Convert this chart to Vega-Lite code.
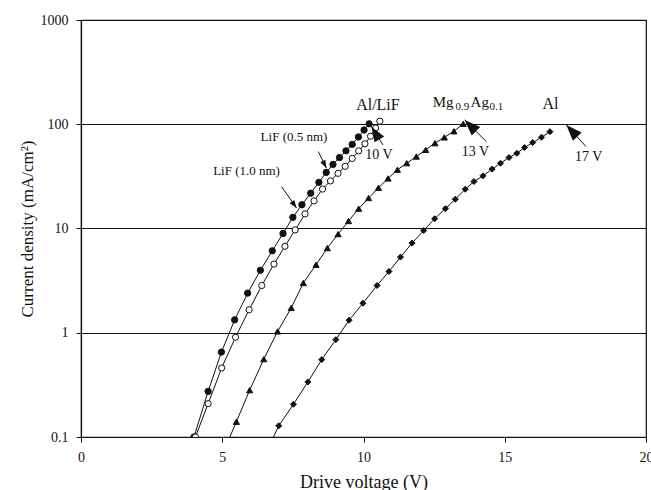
{
  "$schema": "https://vega.github.io/schema/vega-lite/v6.json",
  "width": 565,
  "height": 417,
  "autosize": {"type": "none"},
  "padding": {"left": 81, "top": 20, "right": 5, "bottom": 53},
  "background": "white",
  "config": {
    "font": "Liberation Serif",
    "view": {"stroke": "#111", "strokeWidth": 1.2},
    "axis": {
      "domainColor": "#111",
      "domainWidth": 1.2,
      "tickColor": "#111",
      "labelColor": "#111",
      "titleColor": "#111",
      "labelFont": "Liberation Serif",
      "titleFont": "Liberation Serif",
      "titleFontWeight": "normal",
      "labelFontSize": 14,
      "tickSize": 5
    },
    "text": {"font": "Liberation Serif", "color": "#111"}
  },
  "datasets": {
    "curves": [
      {"series": "LiF05", "V": 4.0, "J": 0.1},
      {"series": "LiF05", "V": 4.5, "J": 0.274},
      {"series": "LiF05", "V": 4.97, "J": 0.652},
      {"series": "LiF05", "V": 5.44, "J": 1.33},
      {"series": "LiF05", "V": 5.9, "J": 2.4},
      {"series": "LiF05", "V": 6.35, "J": 3.97},
      {"series": "LiF05", "V": 6.77, "J": 6.11},
      {"series": "LiF05", "V": 7.15, "J": 8.95},
      {"series": "LiF05", "V": 7.5, "J": 12.8},
      {"series": "LiF05", "V": 7.82, "J": 16.9},
      {"series": "LiF05", "V": 8.13, "J": 21.8},
      {"series": "LiF05", "V": 8.42, "J": 27.7},
      {"series": "LiF05", "V": 8.68, "J": 34.5},
      {"series": "LiF05", "V": 8.92, "J": 41.2},
      {"series": "LiF05", "V": 9.15, "J": 47.9},
      {"series": "LiF05", "V": 9.38, "J": 55.6},
      {"series": "LiF05", "V": 9.6, "J": 64.1},
      {"series": "LiF05", "V": 9.82, "J": 75.5},
      {"series": "LiF05", "V": 10.02, "J": 88.1},
      {"series": "LiF05", "V": 10.2, "J": 101},
      {"series": "LiF10", "V": 4.05, "J": 0.1},
      {"series": "LiF10", "V": 4.5, "J": 0.209},
      {"series": "LiF10", "V": 4.98, "J": 0.46},
      {"series": "LiF10", "V": 5.47, "J": 0.906},
      {"series": "LiF10", "V": 5.95, "J": 1.66},
      {"series": "LiF10", "V": 6.4, "J": 2.84},
      {"series": "LiF10", "V": 6.83, "J": 4.56},
      {"series": "LiF10", "V": 7.22, "J": 6.75},
      {"series": "LiF10", "V": 7.58, "J": 9.7},
      {"series": "LiF10", "V": 7.93, "J": 13.8},
      {"series": "LiF10", "V": 8.25, "J": 18.4},
      {"series": "LiF10", "V": 8.55, "J": 23.9},
      {"series": "LiF10", "V": 8.83, "J": 28.6},
      {"series": "LiF10", "V": 9.1, "J": 33.8},
      {"series": "LiF10", "V": 9.35, "J": 39.5},
      {"series": "LiF10", "V": 9.6, "J": 47.0},
      {"series": "LiF10", "V": 9.83, "J": 55.5},
      {"series": "LiF10", "V": 10.05, "J": 65.0},
      {"series": "LiF10", "V": 10.25, "J": 76.7},
      {"series": "LiF10", "V": 10.43, "J": 92.0},
      {"series": "LiF10", "V": 10.58, "J": 107},
      {"series": "MgAg", "V": 5.1, "J": 0.078},
      {"series": "MgAg", "V": 5.5, "J": 0.14},
      {"series": "MgAg", "V": 5.97, "J": 0.281},
      {"series": "MgAg", "V": 6.47, "J": 0.558},
      {"series": "MgAg", "V": 6.96, "J": 1.03},
      {"series": "MgAg", "V": 7.44, "J": 1.73},
      {"series": "MgAg", "V": 7.87, "J": 3.0},
      {"series": "MgAg", "V": 8.32, "J": 4.49},
      {"series": "MgAg", "V": 8.72, "J": 6.49},
      {"series": "MgAg", "V": 9.1, "J": 8.83},
      {"series": "MgAg", "V": 9.47, "J": 11.8},
      {"series": "MgAg", "V": 9.83, "J": 15.5},
      {"series": "MgAg", "V": 10.18, "J": 19.6},
      {"series": "MgAg", "V": 10.53, "J": 24.6},
      {"series": "MgAg", "V": 10.87, "J": 30.2},
      {"series": "MgAg", "V": 11.2, "J": 36.6},
      {"series": "MgAg", "V": 11.53, "J": 42.3},
      {"series": "MgAg", "V": 11.87, "J": 49.0},
      {"series": "MgAg", "V": 12.2, "J": 56.8},
      {"series": "MgAg", "V": 12.53, "J": 65.8},
      {"series": "MgAg", "V": 12.86, "J": 74.8},
      {"series": "MgAg", "V": 13.2, "J": 85.7},
      {"series": "MgAg", "V": 13.53, "J": 101},
      {"series": "Al", "V": 6.5, "J": 0.0665},
      {"series": "Al", "V": 7.0, "J": 0.128},
      {"series": "Al", "V": 7.52, "J": 0.206},
      {"series": "Al", "V": 8.03, "J": 0.337},
      {"series": "Al", "V": 8.52, "J": 0.552},
      {"series": "Al", "V": 9.02, "J": 0.859},
      {"series": "Al", "V": 9.49, "J": 1.32},
      {"series": "Al", "V": 9.98, "J": 1.92},
      {"series": "Al", "V": 10.48, "J": 2.84},
      {"series": "Al", "V": 10.9, "J": 3.87},
      {"series": "Al", "V": 11.31, "J": 5.32},
      {"series": "Al", "V": 11.72, "J": 7.24},
      {"series": "Al", "V": 12.13, "J": 9.57},
      {"series": "Al", "V": 12.52, "J": 12.4},
      {"series": "Al", "V": 12.9, "J": 15.5},
      {"series": "Al", "V": 13.25, "J": 19.1},
      {"series": "Al", "V": 13.6, "J": 23.8},
      {"series": "Al", "V": 13.91, "J": 28.2},
      {"series": "Al", "V": 14.23, "J": 32.0},
      {"series": "Al", "V": 14.55, "J": 37.1},
      {"series": "Al", "V": 14.85, "J": 42.3},
      {"series": "Al", "V": 15.15, "J": 47.9},
      {"series": "Al", "V": 15.43, "J": 52.7},
      {"series": "Al", "V": 15.7, "J": 59.7},
      {"series": "Al", "V": 15.99, "J": 66.7},
      {"series": "Al", "V": 16.3, "J": 75.0},
      {"series": "Al", "V": 16.6, "J": 84.9}
    ],
    "arrows": [
      {"id": "a1", "V0": 8.40, "J0": 54.7, "V": 8.69, "J": 37.9},
      {"id": "a2", "V0": 7.10, "J0": 25.2, "V": 7.63, "J": 15.7},
      {"id": "a3", "V0": 10.69, "J0": 63.4, "V": 10.28, "J": 94.8},
      {"id": "a4", "V0": 14.35, "J0": 68.1, "V": 13.58, "J": 110},
      {"id": "a5", "V0": 17.88, "J0": 61.0, "V": 17.18, "J": 98.4}
    ]
  },
  "encoding": {
    "x": {
      "field": "V",
      "type": "quantitative",
      "scale": {"domain": [0, 20], "nice": false, "zero": false},
      "axis": {
        "title": "Drive voltage (V)",
        "values": [0, 5, 10, 15, 20],
        "grid": false,
        "labelPadding": 8,
        "labelFlush": false,
        "titleFontSize": 18,
        "titlePadding": 9
      }
    },
    "y": {
      "field": "J",
      "type": "quantitative",
      "scale": {"type": "log", "domain": [0.1, 1000], "nice": false},
      "axis": {
        "title": "Current density (mA/cm²)",
        "values": [0.1, 1, 10, 100, 1000],
        "format": "~g",
        "grid": true,
        "gridColor": "#111",
        "gridWidth": 1.2,
        "gridOpacity": 1,
        "labelPadding": 8,
        "titleFontSize": 17,
        "titlePadding": 4
      }
    }
  },
  "layer": [
    {
      "data": {"name": "curves"},
      "mark": {"type": "line", "color": "#111", "strokeWidth": 1, "clip": true},
      "encoding": {"detail": {"field": "series"}}
    },
    {
      "data": {"name": "curves"},
      "mark": {"type": "point", "stroke": "#111", "strokeWidth": 1, "opacity": 1, "clip": true},
      "encoding": {
        "shape": {
          "field": "series",
          "scale": {"domain": ["LiF05", "LiF10", "MgAg", "Al"], "range": ["circle", "circle", "triangle-up", "diamond"]},
          "legend": null
        },
        "fill": {
          "field": "series",
          "scale": {"domain": ["LiF05", "LiF10", "MgAg", "Al"], "range": ["#111", "white", "#111", "#111"]},
          "legend": null
        },
        "size": {
          "field": "series",
          "type": "nominal",
          "scale": {"domain": ["LiF05", "LiF10", "MgAg", "Al"], "range": [40, 36, 50, 26]},
          "legend": null
        }
      }
    },
    {
      "data": {"name": "arrows"},
      "mark": {"type": "rule", "color": "#111", "strokeWidth": 1},
      "encoding": {
        "x2": {"field": "V0"},
        "y2": {"field": "J0"}
      }
    },
    {
      "data": {"name": "arrows"},
      "transform": [{"filter": "datum.id == 'a1'"}],
      "mark": {"type": "point", "shape": "M0,0L-0.35,1L0.35,1Z", "filled": true, "color": "#111", "opacity": 1, "size": 256, "angle": 153},
      "encoding": {}
    },
    {
      "data": {"name": "arrows"},
      "transform": [{"filter": "datum.id == 'a2'"}],
      "mark": {"type": "point", "shape": "M0,0L-0.35,1L0.35,1Z", "filled": true, "color": "#111", "opacity": 1, "size": 256, "angle": 145},
      "encoding": {}
    },
    {
      "data": {"name": "arrows"},
      "transform": [{"filter": "datum.id == 'a3'"}],
      "mark": {"type": "point", "shape": "M0,0L-0.375,1L0.375,1Z", "filled": true, "color": "#111", "opacity": 1, "size": 900, "angle": 328},
      "encoding": {}
    },
    {
      "data": {"name": "arrows"},
      "transform": [{"filter": "datum.id == 'a4'"}],
      "mark": {"type": "point", "shape": "M0,0L-0.375,1L0.375,1Z", "filled": true, "color": "#111", "opacity": 1, "size": 1024, "angle": 315},
      "encoding": {}
    },
    {
      "data": {"name": "arrows"},
      "transform": [{"filter": "datum.id == 'a5'"}],
      "mark": {"type": "point", "shape": "M0,0L-0.375,1L0.375,1Z", "filled": true, "color": "#111", "opacity": 1, "size": 1024, "angle": 317},
      "encoding": {}
    },
    {
      "data": {"values": [
        {"t": "Al/LiF", "V": 10.51, "J": 135.5},
        {"t": "Al", "V": 16.62, "J": 138.7}
      ]},
      "mark": {"type": "text", "fontSize": 16, "align": "center", "baseline": "alphabetic"},
      "encoding": {"text": {"field": "t"}}
    },
    {
      "data": {"values": [
        {"t": "Mg", "V": 12.45, "J": 145},
        {"t": "Ag", "V": 13.79, "J": 145}
      ]},
      "mark": {"type": "text", "fontSize": 15, "align": "left", "baseline": "alphabetic"},
      "encoding": {"text": {"field": "t"}}
    },
    {
      "data": {"values": [
        {"t": "0.9", "V": 13.26, "J": 135.5},
        {"t": "0.1", "V": 14.46, "J": 135.5}
      ]},
      "mark": {"type": "text", "fontSize": 11, "align": "left", "baseline": "alphabetic"},
      "encoding": {"text": {"field": "t"}}
    },
    {
      "data": {"values": [
        {"t": "LiF (0.5 nm)", "V": 7.54, "J": 69.7},
        {"t": "LiF (1.0 nm)", "V": 5.86, "J": 32.7}
      ]},
      "mark": {"type": "text", "fontSize": 13, "align": "center", "baseline": "alphabetic"},
      "encoding": {"text": {"field": "t"}}
    },
    {
      "data": {"values": [
        {"t": "10 V", "V": 10.55, "J": 46.6},
        {"t": "13 V", "V": 13.96, "J": 49.7},
        {"t": "17 V", "V": 17.97, "J": 44.5}
      ]},
      "mark": {"type": "text", "fontSize": 14, "align": "center", "baseline": "alphabetic"},
      "encoding": {"text": {"field": "t"}}
    }
  ]
}
